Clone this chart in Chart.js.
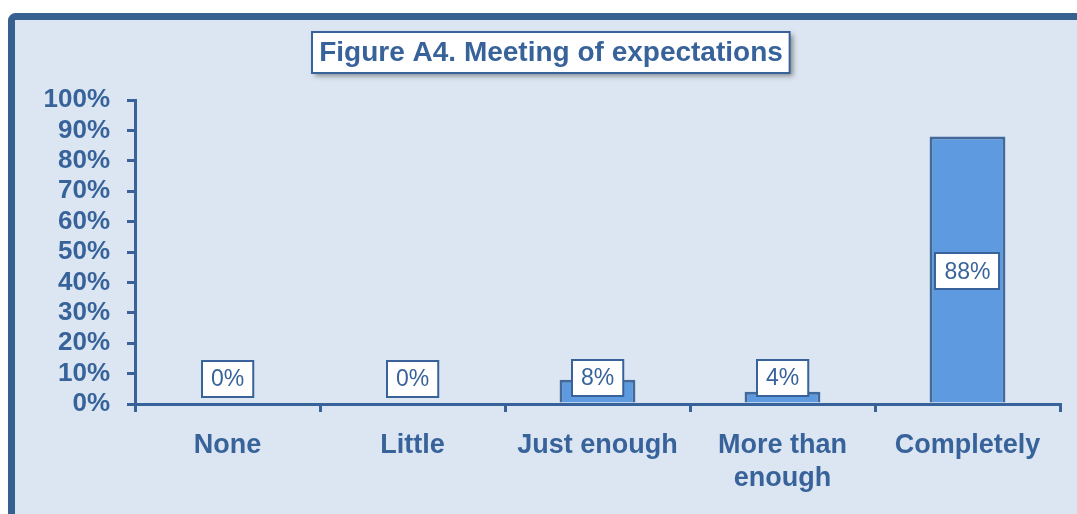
<!DOCTYPE html>
<html>
<head>
<meta charset="utf-8">
<script src="https://cdn.jsdelivr.net/npm/chart.js@4"></script>
<style>
html,body{margin:0;padding:0;background:#fff;}
#wrap{width:1077px;height:514px;position:relative;}
</style>
</head>
<body>
<div id="wrap"><canvas id="c" width="1077" height="514"></canvas></div>
<script>
const titleText = 'Figure A4. Meeting of expectations';
const categories = ['None', 'Little', 'Just enough', ['More than', 'enough'], 'Completely'];
const values = [0, 0, 8, 4, 88];
const valueLabels = ['0%', '0%', '8%', '4%', '88%'];
const yTicks = [0, 10, 20, 30, 40, 50, 60, 70, 80, 90, 100];

const BLUE = '#38639A';
const FRAME = '#36608F';
const FONT = '"Liberation Sans", Arial, sans-serif';

const framePlugin = {
  id: 'frame',
  beforeDraw(chart) {
    const ctx = chart.ctx;
    ctx.save();
    ctx.fillStyle = '#ffffff';
    ctx.fillRect(0, 0, chart.width, chart.height);
    ctx.beginPath();
    ctx.roundRect(11.5, 16.5, 1200, 700, 4);
    ctx.fillStyle = '#DCE6F2';
    ctx.fill();
    ctx.lineWidth = 7;
    ctx.strokeStyle = FRAME;
    ctx.stroke();
    ctx.restore();
  },
  afterDraw(chart) {
    const ctx = chart.ctx;
    ctx.save();
    ctx.font = 'bold 28px ' + FONT;
    const tw = ctx.measureText(titleText).width;
    const cx = 551;
    const bw = tw + 14, bh = 41;
    const bx = Math.round(cx - bw / 2), by = 32;
    ctx.shadowColor = 'rgba(60,60,60,0.55)';
    ctx.shadowBlur = 5;
    ctx.shadowOffsetX = 3;
    ctx.shadowOffsetY = 3;
    ctx.fillStyle = '#ffffff';
    ctx.fillRect(bx, by, bw, bh);
    ctx.shadowColor = 'transparent';
    ctx.lineWidth = 2;
    ctx.strokeStyle = BLUE;
    ctx.strokeRect(bx, by, bw, bh);
    ctx.fillStyle = BLUE;
    ctx.textAlign = 'center';
    ctx.textBaseline = 'middle';
    ctx.fillText(titleText, cx, by + bh / 2 + 1);
    ctx.restore();
  }
};

const labelPlugin = {
  id: 'barLabels',
  afterDatasetsDraw(chart) {
    const ctx = chart.ctx;
    const meta = chart.getDatasetMeta(0);
    ctx.save();
    ctx.font = '23px ' + FONT;
    ctx.textAlign = 'center';
    ctx.textBaseline = 'middle';
    meta.data.forEach((bar, i) => {
      const txt = valueLabels[i];
      const center = (bar.y + bar.base) / 2;
      const cy = Math.min(center + 2, bar.base - 25);
      const w = ctx.measureText(txt).width + 18;
      const h = 36;
      const x0 = Math.round(bar.x - w / 2), y0 = Math.round(cy - h / 2);
      ctx.fillStyle = '#ffffff';
      ctx.fillRect(x0, y0, w, h);
      ctx.lineWidth = 2;
      ctx.strokeStyle = BLUE;
      ctx.strokeRect(x0, y0, w, h);
      ctx.fillStyle = BLUE;
      ctx.fillText(txt, bar.x, cy + 1);
    });
    ctx.restore();
  }
};

new Chart(document.getElementById('c'), {
  type: 'bar',
  data: {
    labels: categories,
    datasets: [{
      data: values,
      backgroundColor: '#5E9AE0',
      borderColor: '#41699B',
      borderWidth: 3,
      barPercentage: 0.82,
      categoryPercentage: 0.5
    }]
  },
  options: {
    responsive: false,
    animation: false,
    devicePixelRatio: 1,
    layout: { padding: { top: 100, right: 17, left: 0, bottom: 0 } },
    plugins: { legend: { display: false }, tooltip: { enabled: false }, title: { display: false } },
    scales: {
      y: {
        min: 0, max: 100,
        afterFit(scale) { scale.width = 135; },
        afterBuildTicks(scale) { scale.ticks = yTicks.map(v => ({ value: v })); },
        ticks: {
          color: BLUE,
          font: { family: FONT, size: 26, weight: 'bold', lineHeight: 1 },
          padding: 17,
          autoSkip: false,
          callback: v => v + '%'
        },
        grid: { drawOnChartArea: false, drawTicks: true, tickLength: 8, color: BLUE, lineWidth: 3 },
        border: { display: true, color: BLUE, width: 3 }
      },
      x: {
        afterFit(scale) { scale.height = 110; },
        ticks: {
          color: BLUE,
          font: { family: FONT, size: 27, weight: 'bold', lineHeight: 1.22 },
          padding: 17,
          maxRotation: 0,
          autoSkip: false
        },
        grid: { drawOnChartArea: false, drawTicks: true, tickLength: 8, color: BLUE, lineWidth: 3, offset: true },
        border: { display: true, color: BLUE, width: 3 }
      }
    }
  },
  plugins: [framePlugin, labelPlugin]
});
</script>
</body>
</html>
